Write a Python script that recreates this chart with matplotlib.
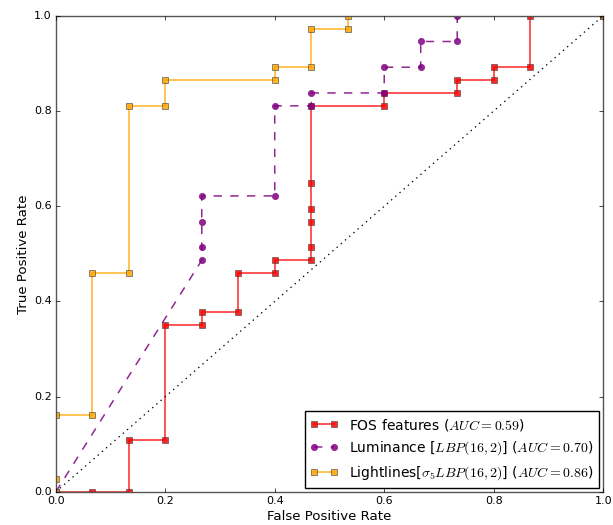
import matplotlib
matplotlib.use("Agg")
import matplotlib.pyplot as plt

plt.style.use("classic")
plt.rcParams["mathtext.fontset"] = "cm"

n_neg = 15.0
n_pos = 37.0

# counts of false positives / true positives at each threshold
fos_fp = [0, 1, 2, 2, 3, 3, 4, 4, 5, 5, 6, 6, 7, 7, 7, 7, 7, 7, 9, 9, 11, 11, 12, 12, 13, 13, 15]
fos_tp = [0, 0, 0, 4, 4, 13, 13, 14, 14, 17, 17, 18, 18, 19, 21, 22, 24, 30, 30, 31, 31, 32, 32, 33, 33, 37, 37]

lum_fp = [0, 4, 4, 4, 4, 6, 6, 7, 7, 9, 9, 10, 10, 11, 11, 15]
lum_tp = [0, 18, 19, 21, 23, 23, 30, 30, 31, 31, 33, 33, 35, 35, 37, 37]

light_fp = [0, 0, 0, 1, 1, 2, 2, 3, 3, 6, 6, 7, 7, 8, 8, 15]
light_tp = [0, 1, 6, 6, 17, 17, 30, 30, 32, 32, 33, 33, 36, 36, 37, 37]

labels = [
    r"FOS features ($AUC = 0.59$)",
    r"Luminance [$LBP(16,2)$] ($AUC = 0.70$)",
    r"Lightlines[$\sigma_5 LBP(16,2)$] ($AUC = 0.86$)",
]


def rates(fp, tp):
    return [v / n_neg for v in fp], [v / n_pos for v in tp]


fig = plt.figure(figsize=(6.13, 5.25), dpi=100, facecolor="white")
ax = fig.add_axes([0.091, 0.063, 0.893, 0.907])

x, y = rates(fos_fp, fos_tp)
ax.plot(x, y, "-", color="red", marker="s", markersize=4.5, lw=1.1, alpha=0.85,
        markeredgecolor="#444444", markeredgewidth=0.5, label=labels[0])
x, y = rates(lum_fp, lum_tp)
ax.plot(x, y, "--", color="purple", marker="o", markersize=4.5, lw=1.1, alpha=0.85,
        markeredgecolor="purple", markeredgewidth=0.5, label=labels[1])
x, y = rates(light_fp, light_tp)
ax.plot(x, y, "-", color="orange", marker="s", markersize=4.5, lw=1.1, alpha=0.85,
        markeredgecolor="#444444", markeredgewidth=0.5, label=labels[2])

ax.plot([0, 1], [0, 1], "k:", lw=0.9)

ax.set_xlim(0, 1)
ax.set_ylim(0, 1)
ax.set_xlabel("False Positive Rate", fontsize=9.6, labelpad=3)
ax.set_ylabel("True Positive Rate", fontsize=9.6, labelpad=3)
ax.tick_params(labelsize=8, pad=3, length=3.2)
for spine in ax.spines.values():
    spine.set_color("#555555")
ax.legend(loc="lower right", fontsize=10, numpoints=2, borderaxespad=0.3)

fig.savefig("out.png", dpi=100, facecolor="white")
